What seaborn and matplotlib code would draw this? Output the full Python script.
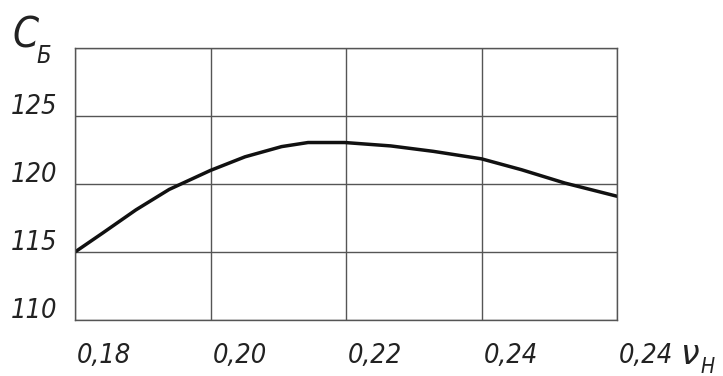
import matplotlib
matplotlib.use("Agg")
import matplotlib.pyplot as plt
import seaborn as sns
import pandas as pd

# Bearing stiffness C_Б versus relative parameter ν_H
nu_h = [0.180, 0.1841, 0.1890, 0.1939, 0.2000, 0.2051, 0.2105, 0.2144, 0.2198,
        0.2266, 0.2329, 0.2400, 0.2459, 0.2523, 0.2600]
c_b = [115.0, 116.4, 118.1, 119.6, 121.0, 122.0, 122.75, 123.05, 123.05,
       122.8, 122.4, 121.85, 121.05, 120.07, 119.1]

x_ticks = [0.18, 0.20, 0.22, 0.24, 0.26]
x_tick_labels = ["0,18", "0,20", "0,22", "0,24", "0,24"]
y_ticks = [110, 115, 120, 125, 130]
y_tick_labels = ["110", "115", "120", "125", ""]

sns.set_theme(style="white")
font = ["DejaVu Sans"]
plt.rcParams["font.family"] = font

W, H = 723, 376
fig = plt.figure(figsize=(W / 100, H / 100), dpi=100)
ax = fig.add_axes([75 / W, 56 / H, 542 / W, 272 / H])

df = pd.DataFrame({"nu": nu_h, "c": c_b})
sns.lineplot(data=df, x="nu", y="c", ax=ax, color="#111111", linewidth=2.5)

ax.set_xlim(0.18, 0.26)
ax.set_ylim(110, 130)
ax.set_xticks(x_ticks)
ax.set_yticks(y_ticks)
ax.set_xticklabels([])
ax.set_yticklabels([])
ax.set_xlabel("")
ax.set_ylabel("")
ax.tick_params(length=0)
ax.grid(True, color="#555555", linewidth=1.0)
for s in ax.spines.values():
    s.set_color("#555555")
    s.set_linewidth(1.0)

lab = dict(fontsize=19.5, style="italic", stretch="condensed", color="#222222")
for xv, t in zip(x_ticks, x_tick_labels):
    ax.annotate(t, xy=(xv, 110), xycoords="data", xytext=(1.5, -31),
                textcoords="offset points", ha="left", va="baseline", **lab)
for yv, t in zip(y_ticks, y_tick_labels):
    if t:
        ax.annotate(t, xy=(0.18, yv), xycoords="data", xytext=(-13, 1.5),
                    textcoords="offset points", ha="right", va="baseline", **lab)


def px(x, y):
    return x / W, 1 - y / H


# axis names
fig.text(*px(12, 47), "C", fontsize=30, style="italic", stretch="condensed",
         color="#222222", va="baseline")
fig.text(*px(36, 63), "Б", fontsize=17, style="italic", stretch="condensed",
         color="#222222", va="baseline")
fig.text(*px(680, 364), "ν", fontsize=24, style="italic", color="#222222", va="baseline")
fig.text(*px(700, 373), "H", fontsize=15, style="italic", stretch="condensed",
         color="#222222", va="baseline")

fig.savefig("out.png", dpi=100)
